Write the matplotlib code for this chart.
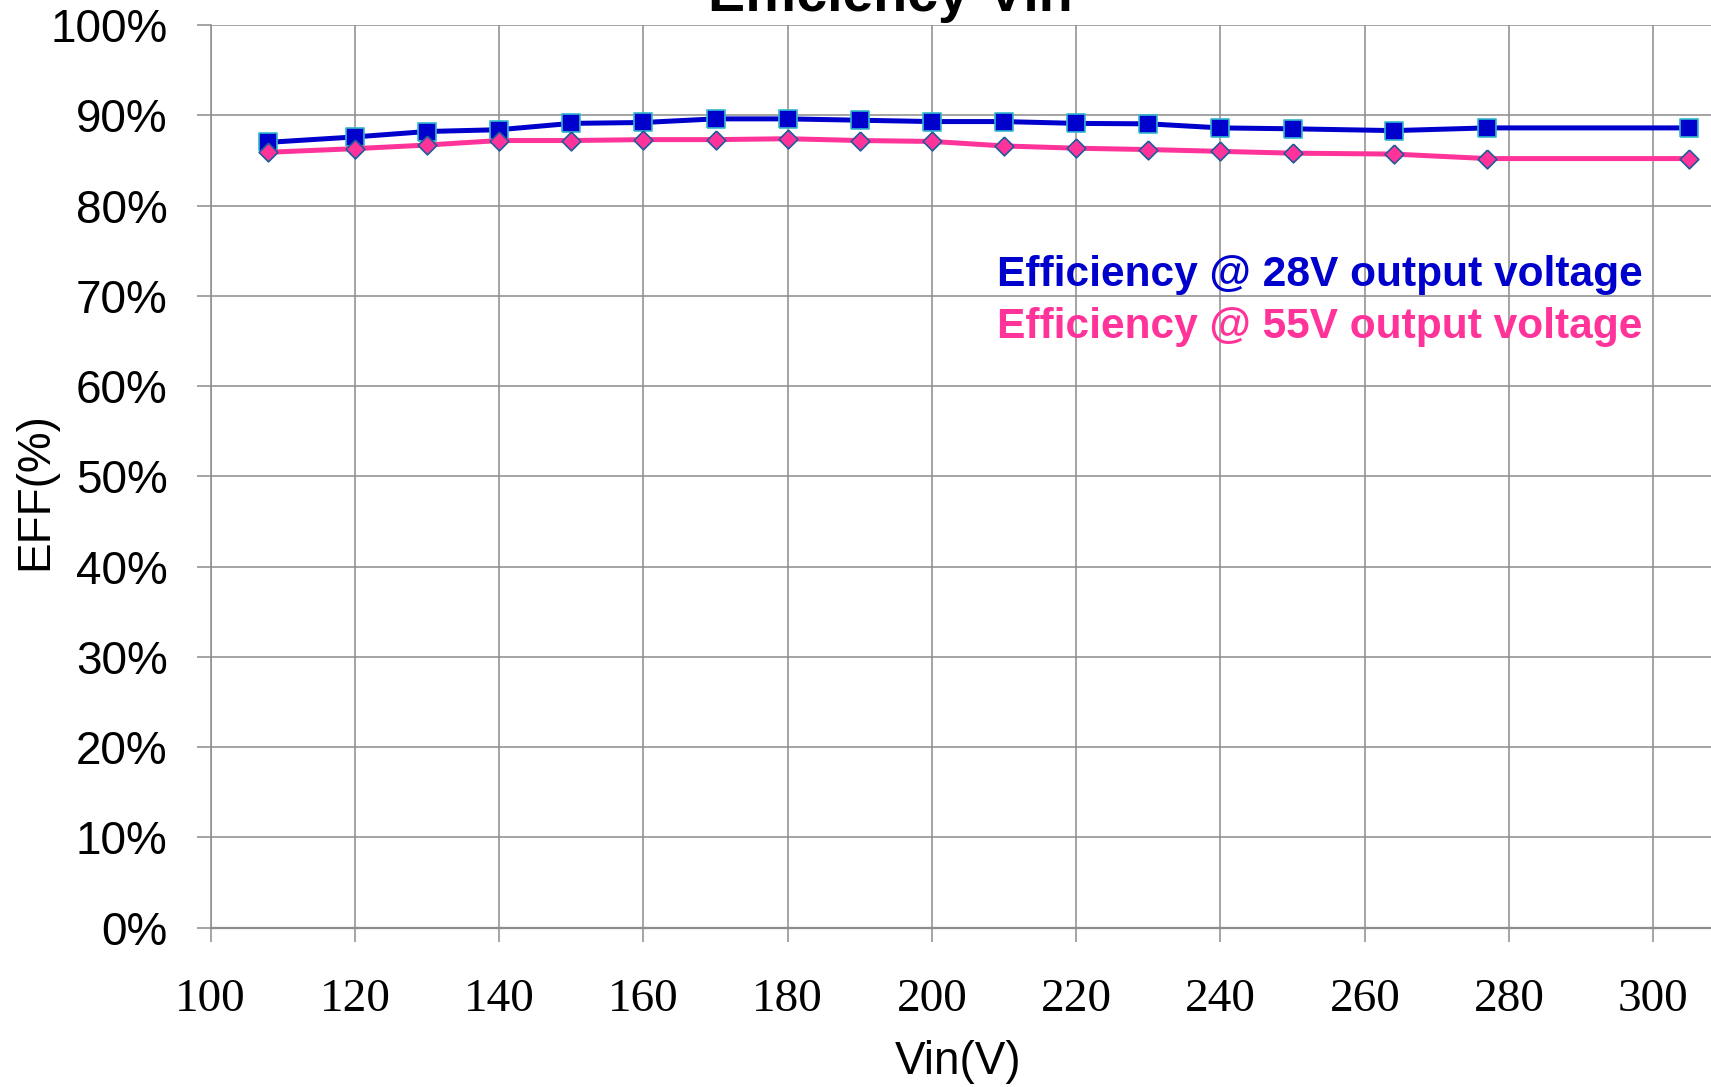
import matplotlib.pyplot as plt
from matplotlib.ticker import FuncFormatter

# input voltage (V)
vin = [108, 120, 130, 140, 150, 160, 170, 180, 190, 200,
       210, 220, 230, 240, 250, 264, 277, 305]

# efficiency (%) for both output voltages
eff_28v = [87.0, 87.6, 88.2, 88.4, 89.1, 89.2, 89.6, 89.6, 89.45, 89.3,
           89.3, 89.1, 89.05, 88.6, 88.5, 88.3, 88.6, 88.6]
eff_55v = [85.9, 86.3, 86.7, 87.2, 87.2, 87.3, 87.3, 87.4, 87.2, 87.1,
           86.6, 86.35, 86.2, 86.0, 85.8, 85.7, 85.2, 85.2]

label_28v = "Efficiency @ 28V output voltage"
label_55v = "Efficiency @ 55V output voltage"

W, H = 1711, 1087
fig = plt.figure(figsize=(W / 100, H / 100), dpi=100)
ax = fig.add_axes([210.6 / W, 1 - 927.6 / H, 1 - 210.6 / W, (927.6 - 25) / H])

grid_col = '#8c8c8c'

square = [(-1, -1), (1, -1), (1, 1), (-1, 1), (-1, -1)]
diamond = [(0, 1), (1, 0), (0, -1), (-1, 0), (0, 1)]

ax.plot(vin, eff_28v, color='#0000CC', lw=3.6, marker=square, ms=13.5,
        mfc='#0000CC', mec='#33B8CC', mew=1.2, zorder=3)
ax.plot(vin, eff_55v, color='#FF3399', lw=3.6, marker=diamond, ms=13.5,
        mfc='#FF3399', mec='#1F5A9A', mew=1.2, zorder=4)

ax.set_xlim(100, 308)
ax.set_ylim(0, 100)
ax.set_xticks(range(100, 301, 20))
ax.set_yticks(range(0, 101, 10))
ax.yaxis.set_major_formatter(FuncFormatter(lambda v, p: f"{int(v)}%"))

ax.grid(True, color=grid_col, lw=1.1)
ax.set_axisbelow(True)
for s in ['top', 'right']:
    ax.spines[s].set_visible(False)
ax.spines['left'].set_color(grid_col)
ax.spines['left'].set_linewidth(1.1)
ax.spines['bottom'].set_color(grid_col)
ax.spines['bottom'].set_linewidth(1.6)

ax.tick_params(axis='both', color=grid_col, length=10, width=1.1)
ax.tick_params(axis='y', pad=21)
ax.tick_params(axis='x', pad=27)
for t in ax.get_yticklabels():
    t.set_fontfamily('Liberation Sans')
    t.set_fontsize(33)
for t in ax.get_xticklabels():
    t.set_fontfamily('Liberation Serif')
    t.set_fontsize(34)

# series labels drawn as coloured text
ax.text(997 / W, 1 - 285.7 / H, label_28v, transform=fig.transFigure,
        color='#0000CC', fontsize=30.6, fontweight='bold',
        fontfamily='Liberation Sans', va='baseline', ha='left')
ax.text(997 / W, 1 - 338 / H, label_55v, transform=fig.transFigure,
        color='#FF3399', fontsize=30.6, fontweight='bold',
        fontfamily='Liberation Sans', va='baseline', ha='left')

# title is clipped at the top edge in the original
fig.text(890 / W, 1 - 11 / H, "Efficiency-Vin", ha='center', va='baseline',
         fontsize=40, fontweight='bold', fontfamily='Liberation Sans')
fig.text(35 / W, 1 - 491 / H, "EFF(%)", rotation=90, ha='center', va='center',
         fontsize=33, fontfamily='Liberation Sans')
fig.text(958 / W, 1 - 1062 / H, "Vin(V)", ha='center', va='center',
         fontsize=33, fontfamily='Liberation Sans')

fig.savefig('out.png', dpi=100)
